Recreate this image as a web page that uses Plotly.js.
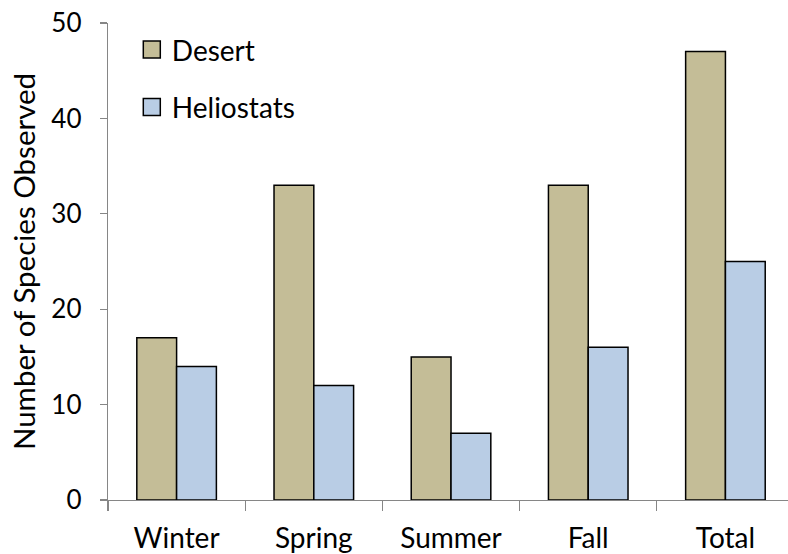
<!DOCTYPE html>
<html><head><meta charset="utf-8">
<script src="https://cdn.plot.ly/plotly-3.0.1.min.js"></script>
<style>html,body{margin:0;padding:0;background:#fff}#chart{width:788px;height:554px}</style>
</head><body><div id="chart"></div>
<script>
const categories = ["Winter", "Spring", "Summer", "Fall", "Total"];
const desertValues = [17, 33, 15, 33, 47];
const heliostatValues = [14, 12, 7, 16, 25];
const yTicks = [0, 10, 20, 30, 40, 50];

const font = "Lato, Carlito, Calibri, 'Open Sans', sans-serif";
const traces = [
  {type: "bar", name: "Desert", x: categories, y: desertValues, legendgroup: "a",
   marker: {color: "#C4BD97", line: {color: "#000", width: 1.5}}},
  {type: "bar", name: "Heliostats", x: categories, y: heliostatValues, legendgroup: "b",
   marker: {color: "#B9CDE5", line: {color: "#000", width: 1.5}}}
];
const layout = {
  width: 788, height: 554,
  margin: {l: 108, r: 0, t: 23, b: 54},
  paper_bgcolor: "#fff", plot_bgcolor: "#fff",
  font: {family: font, color: "#000", size: 26},
  barmode: "group", bargap: 0.42, bargroupgap: 0,
  showlegend: true,
  legend: {x: 0.035, y: 0.996, xanchor: "left", yanchor: "top", bgcolor: "rgba(0,0,0,0)",
           font: {family: font, size: 28}, tracegroupgap: 18, itemwidth: 30},
  xaxis: {type: "category", range: [-0.5, 4.456], showline: true, linecolor: "#868686", linewidth: 1.3,
          ticks: "outside", tickson: "boundaries", ticklen: 10, tickcolor: "#868686", tickwidth: 1.3,
          tickfont: {size: 28}, ticklabelstandoff: 13, showgrid: false, zeroline: false, fixedrange: true},
  yaxis: {range: [0, 50], tickvals: yTicks, showline: true, linecolor: "#868686", linewidth: 1.3,
          ticks: "outside", ticklen: 7, tickcolor: "#868686", tickwidth: 1.3,
          tickfont: {size: 26}, ticklabelstandoff: 13, showgrid: false, zeroline: false,
          title: {text: "Number of Species Observed", font: {size: 29.5}, standoff: 7}}
};
Plotly.newPlot("chart", traces, layout, {displayModeBar: false, staticPlot: true}).then(function (gd) {
  gd.querySelectorAll(".legendpoints path").forEach(function (p) {
    p.setAttribute("d", "M8.5,8.5H-8.5V-8.5H8.5Z");
    p.style.strokeWidth = "1.5px";
  });
});
</script></body></html>
